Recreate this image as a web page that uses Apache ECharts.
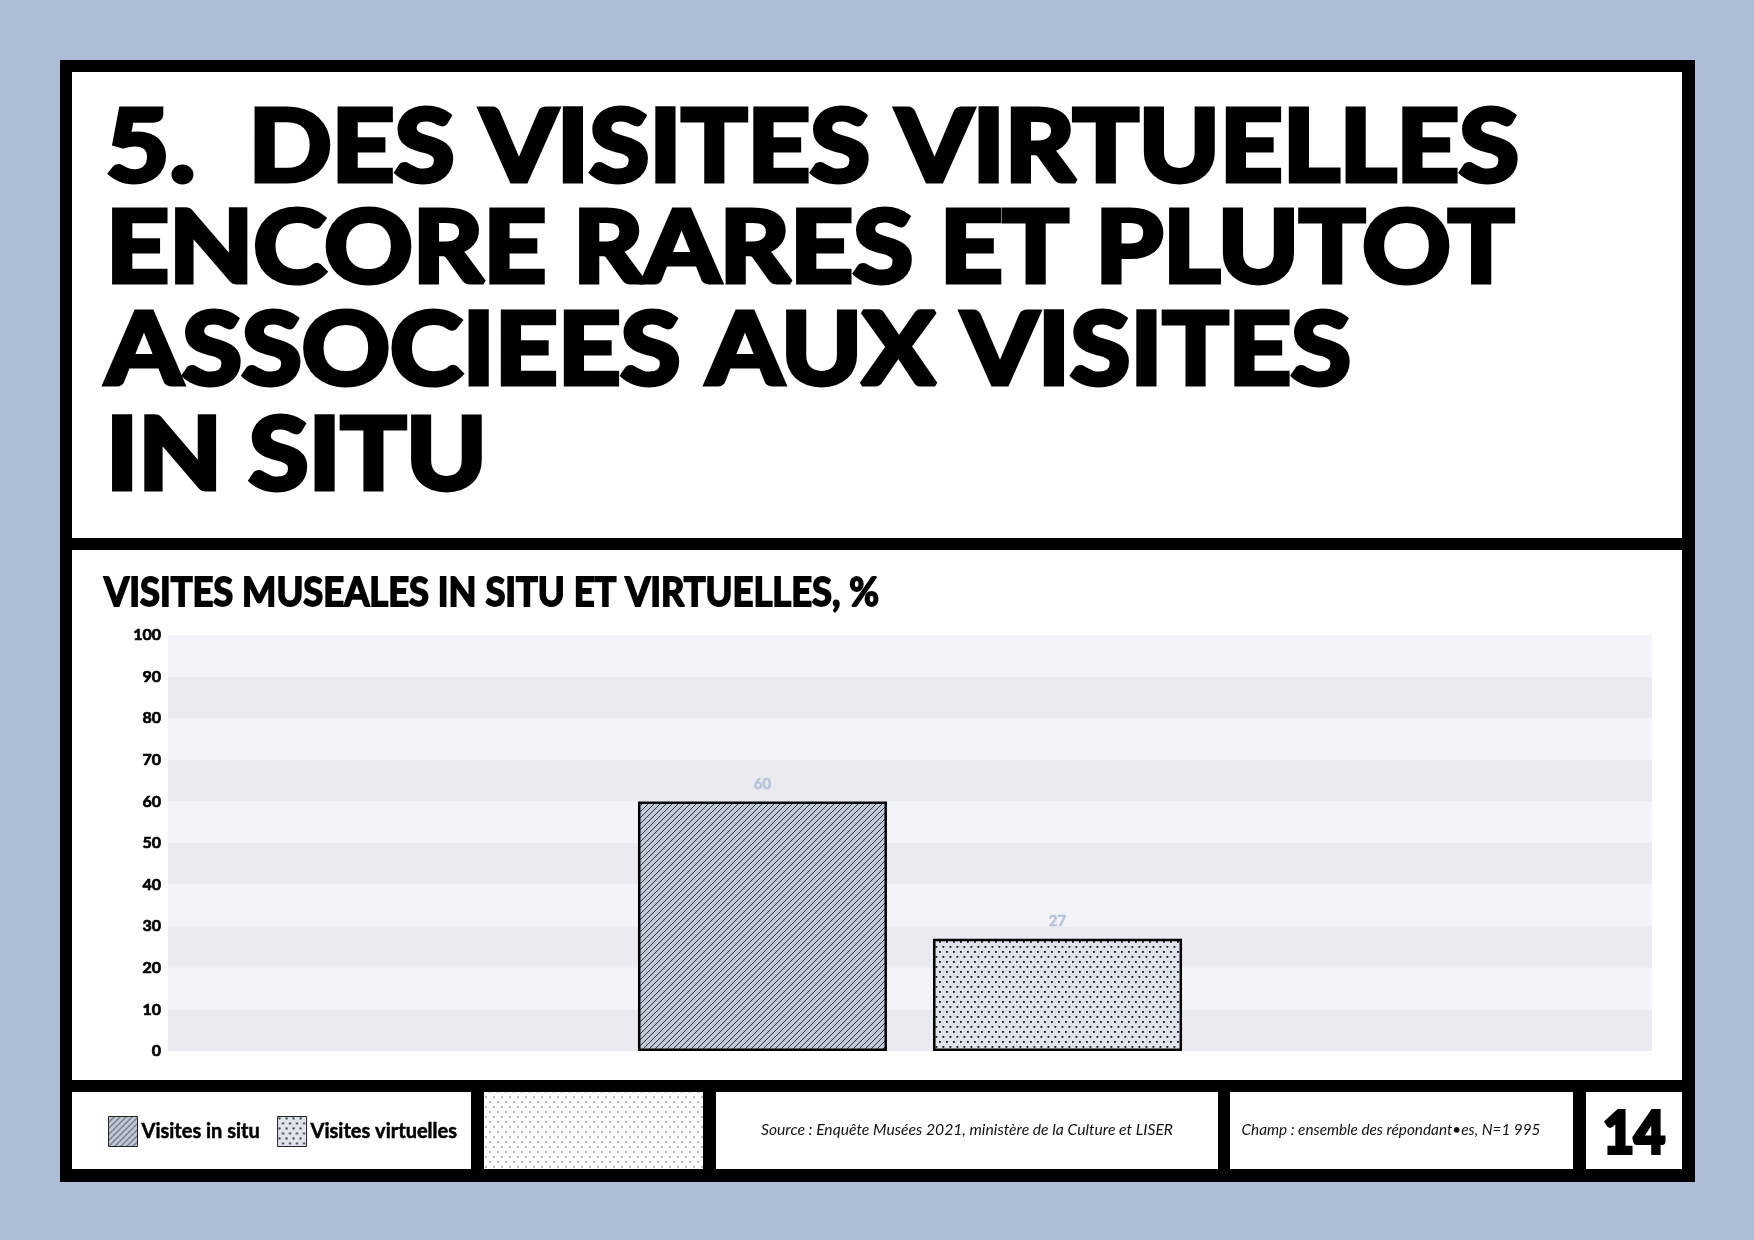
<!DOCTYPE html>
<html>

<head>
	<meta charset="UTF-8">
	<title>Visites muséales in situ et virtuelles</title>
	<script src="https://cdn.jsdelivr.net/npm/echarts@6/dist/echarts.min.js"></script>
	<style>
		html, body { margin: 0; padding: 0; }
		body { width: 1754px; height: 1240px; background: #adbdd6; position: relative; overflow: hidden; }
		.frame { position: absolute; left: 60px; top: 60px; width: 1635px; height: 1122px; background: #000; }
		.panel { position: absolute; background: #fff; }
		#chart { position: absolute; left: 0; top: 0; width: 1754px; height: 1240px; }
	</style>
</head>

<body>
	<div class="frame"></div>
	<!-- titre -->
	<div class="panel" style="left:72px;top:72px;width:1610px;height:466px"></div>
	<!-- graphique -->
	<div class="panel" style="left:72px;top:550px;width:1610px;height:530px"></div>
	<!-- pied de page -->
	<div class="panel" style="left:72px;top:1092px;width:399px;height:77px"></div>
	<div class="panel" style="left:484px;top:1092px;width:219px;height:77px"></div>
	<div class="panel" style="left:716px;top:1092px;width:502px;height:77px"></div>
	<div class="panel" style="left:1230px;top:1092px;width:343px;height:77px"></div>
	<div class="panel" style="left:1586px;top:1092px;width:96px;height:77px"></div>

	<div id="chart"></div>

	<script>
		// données
		var categories = ['Visites muséales'];
		var seriesNames = ['Visites in situ', 'Visites virtuelles'];
		var valuesInSitu = [60];
		var valuesVirtuelles = [27];
		var yMin = 0, yMax = 100, yStep = 10;

		// textes
		var titleLines = ['5.  DES VISITES VIRTUELLES', 'ENCORE RARES ET PLUTOT', 'ASSOCIEES AUX VISITES', 'IN SITU'];
		var chartTitle = 'VISITES MUSEALES IN SITU ET VIRTUELLES, %';
		var sourceText = 'Source : Enquête Musées 2021, ministère de la Culture et LISER';
		var champText = 'Champ : ensemble des répondant•es, N=1 995';
		var pageNumber = '14';

		var heavy = 'Lato, Inter, sans-serif';

		// mesure pour caler la largeur des textes
		var mctx = document.createElement('canvas').getContext('2d');
		function fitScale(text, font, width) {
			mctx.font = font;
			return width / mctx.measureText(text).width;
		}

		// motifs
		function hatchPattern() {
			var c = document.createElement('canvas');
			c.width = 6; c.height = 6;
			var g = c.getContext('2d');
			g.fillStyle = '#c0c8d8';
			g.fillRect(0, 0, 6, 6);
			g.strokeStyle = '#222';
			g.lineWidth = 0.9;
			g.beginPath();
			g.moveTo(-1, 7); g.lineTo(7, -1);
			g.moveTo(-1, 1); g.lineTo(1, -1);
			g.moveTo(5, 7); g.lineTo(7, 5);
			g.stroke();
			return c;
		}
		function dotPattern(bg, dot, w, h, size) {
			var c = document.createElement('canvas');
			c.width = w; c.height = h;
			var g = c.getContext('2d');
			g.fillStyle = bg;
			g.fillRect(0, 0, w, h);
			g.fillStyle = dot;
			g.fillRect(1, 1, size, size);
			g.fillRect(1 + w / 2, 1 + h / 2, size, size);
			return c;
		}

		var chart = echarts.init(document.getElementById('chart'));

		var titleFont = 'bold 100px ' + heavy;
		var titleWidths = [1413, 1408, 1245, 381];
		var titleY = [149, 250, 352, 457];
		var graphics = [];
		titleLines.forEach(function (line, i) {
			graphics.push({
				type: 'text', x: 106, y: titleY[i],
				scaleX: fitScale(line, titleFont, titleWidths[i]),
				style: { text: line, font: titleFont, fill: '#000', stroke: '#000', lineWidth: 5, align: 'left', verticalAlign: 'middle', textAlign: 'left', textVerticalAlign: 'middle' }
			});
		});

		var subFont = 'bold 40px ' + heavy;
		graphics.push({
			type: 'text', x: 104, y: 593,
			scaleX: fitScale(chartTitle, subFont, 775),
			style: { text: chartTitle, font: subFont, fill: '#000', stroke: '#000', lineWidth: 1.8, align: 'left', verticalAlign: 'middle', textAlign: 'left', textVerticalAlign: 'middle' }
		});

		// case décorative du pied de page
		graphics.push({
			type: 'rect', shape: { x: 484, y: 1092, width: 219, height: 77 },
			style: { fill: { image: dotPattern('#ffffff', '#b3b9c7', 8, 10, 2), repeat: 'repeat' } }
		});

		var footFont = 'italic 16px Lato, sans-serif';
		graphics.push({
			type: 'text', x: 967, y: 1130,
			scaleX: fitScale(sourceText, footFont, 412),
			style: { text: sourceText, font: footFont, fill: '#111', align: 'center', verticalAlign: 'middle', textAlign: 'center', textVerticalAlign: 'middle' }
		});
		graphics.push({
			type: 'text', x: 1391, y: 1130,
			scaleX: fitScale(champText, footFont, 299),
			style: { text: champText, font: footFont, fill: '#111', align: 'center', verticalAlign: 'middle', textAlign: 'center', textVerticalAlign: 'middle' }
		});
		var numFont = 'bold 58px ' + heavy;
		graphics.push({
			type: 'text', x: 1634, y: 1134,
			scaleX: fitScale(pageNumber, numFont, 62),
			style: { text: pageNumber, font: numFont, fill: '#000', stroke: '#000', lineWidth: 4, align: 'center', verticalAlign: 'middle', textAlign: 'center', textVerticalAlign: 'middle' }
		});

		var barLabel = {
			show: true,
			position: 'top',
			distance: 10,
			color: '#b8c3d8',
			fontFamily: heavy,
			fontWeight: 'bold',
			fontSize: 15,
			textBorderColor: '#b8c3d8',
			textBorderWidth: 0.6
		};

		var option = {
			animation: false,
			graphic: graphics,
			legend: {
				data: seriesNames,
				left: 108,
				top: 1116,
				padding: 0,
				icon: 'rect',
				itemWidth: 29,
				itemHeight: 30,
				itemGap: 17,
				itemStyle: { borderColor: '#222', borderWidth: 1 },
				textStyle: { fontFamily: heavy, fontWeight: 'bold', fontSize: 20, color: '#000', textBorderColor: '#000', textBorderWidth: 0.5, padding: [0, 0, 0, -1] }
			},
			grid: {
				left: 168,
				right: 102,
				top: 635,
				bottom: 189,
				containLabel: false,
				outerBoundsMode: 'none'
			},
			xAxis: {
				type: 'category',
				data: categories,
				axisLine: { show: false },
				axisTick: { show: false },
				axisLabel: { show: false }
			},
			yAxis: {
				type: 'value',
				min: yMin,
				max: yMax,
				interval: yStep,
				axisLine: { show: false },
				axisTick: { show: false },
				splitLine: { show: false },
				splitArea: { show: true, areaStyle: { color: ['#e9ebf0', '#f3f4f8'] } },
				axisLabel: { color: '#000', fontFamily: heavy, fontWeight: 'bold', fontSize: 16, margin: 7, textBorderColor: '#000', textBorderWidth: 0.7 }
			},
			series: [{
				name: seriesNames[0],
				type: 'bar',
				data: valuesInSitu,
				barWidth: 249,
				barGap: '18.5%',
				itemStyle: {
					color: { image: hatchPattern(), repeat: 'repeat' },
					borderColor: '#000',
					borderWidth: 2.5
				},
				label: barLabel
			}, {
				name: seriesNames[1],
				type: 'bar',
				data: valuesVirtuelles,
				barWidth: 249,
				barGap: '18.5%',
				itemStyle: {
					color: { image: dotPattern('#dfe3ec', '#141414', 7, 10, 1.8), repeat: 'repeat' },
					borderColor: '#000',
					borderWidth: 2.5
				},
				label: barLabel
			}]
		};

		chart.setOption(option);
	</script>
</body>

</html>
